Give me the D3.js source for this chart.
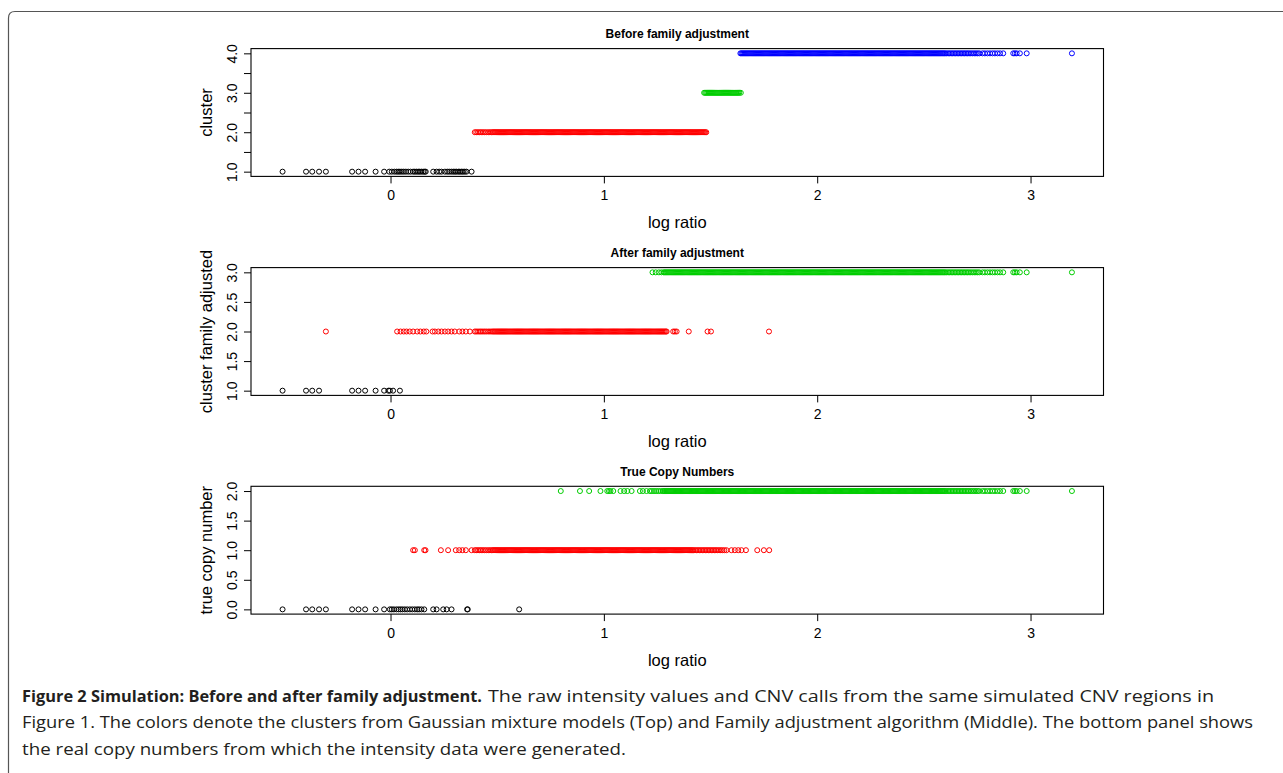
<!DOCTYPE html>
<html><head><meta charset="utf-8">
<script src="https://cdn.jsdelivr.net/npm/d3@7"></script>
<style>body{margin:0;background:#fff}svg{display:block}</style>
</head><body><svg id="c" width="1283" height="773"></svg>
<script>
// ---------- data (log ratio values) ----------
const lowSparse = [-0.506,-0.396,-0.367,-0.335,-0.180,-0.150,-0.119,-0.070,-0.030];
const topBlackExtra = [-0.303,-0.006,0.006,0.018,0.028,0.036,0.044,0.053,0.062,0.072,0.083,0.094,0.106,0.114,0.122,0.130,0.137,0.145,0.153,0.160,0.165,0.200,0.216,0.228,0.239,0.255,0.266,0.275,0.285,0.294,0.302,0.309,0.318,0.325,0.333,0.340,0.348,0.356,0.380];
const midBlackExtra = [-0.010,-0.003,0.012,0.044];
const bottomBlackExtra = [-0.303,-0.003,0.006,0.016,0.028,0.038,0.047,0.056,0.067,0.078,0.091,0.102,0.114,0.125,0.134,0.145,0.158,0.200,0.216,0.247,0.263,0.286,0.359,0.362,0.603];
const redLead = [0.395,0.402,0.410,0.418,0.425,0.433,0.441,0.449,0.458,0.466,0.474];
const midRedLead = [-0.303,0.031,0.047,0.062,0.075,0.090,0.106,0.125,0.140,0.156,0.168,0.197,0.208,0.224,0.239,0.255,0.270,0.286,0.301,0.322,0.337,0.353,0.372];
const bottomRedLead = [0.106,0.114,0.158,0.164,0.236,0.270,0.306,0.322,0.337,0.353,0.380];
const midBand = [0.480,0.485,0.490,0.495,0.500,0.505,0.510,0.515,0.520,0.525,0.530,0.535,0.540,0.545,0.550,0.555,0.560,0.565,0.570,0.575,
0.580,0.585,0.590,0.595,0.600,0.605,0.610,0.615,0.620,0.625,0.630,0.635,0.640,0.645,0.650,0.655,0.660,0.665,0.670,0.675,
0.680,0.685,0.690,0.695,0.700,0.705,0.710,0.715,0.720,0.725,0.730,0.735,0.740,0.745,0.750,0.755,0.760,0.765,0.770,0.775,
0.780,0.785,0.790,0.795,0.800,0.805,0.810,0.815,0.820,0.825,0.830,0.835,0.840,0.845,0.850,0.855,0.860,0.865,0.870,0.875,
0.880,0.885,0.890,0.895,0.900,0.905,0.910,0.915,0.920,0.925,0.930,0.935,0.940,0.945,0.950,0.955,0.960,0.965,0.970,0.975,
0.980,0.985,0.990,0.995,1.000,1.005,1.010,1.015,1.020,1.025,1.030,1.035,1.040,1.045,1.050,1.055,1.060,1.065,1.070,1.075,
1.080,1.085,1.090,1.095,1.100,1.105,1.110,1.115,1.120,1.125,1.130,1.135,1.140,1.145,1.150,1.155,1.160,1.165,1.170,1.175,
1.180,1.185,1.190,1.195,1.200,1.205,1.210,1.215,1.220,1.225,1.230,1.235,1.240,1.245,1.250,1.255,1.260];
const topRedTail = [1.265,1.270,1.275,1.280,1.285,1.290,1.295,1.300,1.305,1.310,1.315,1.320,1.325,1.330,1.335,1.340,1.345,1.350,1.355,1.360,
1.365,1.370,1.375,1.380,1.385,1.390,1.395,1.400,1.405,1.410,1.415,1.420,1.425,1.430,1.435,1.440,1.445,1.450,1.455,1.460,1.465,1.470,1.475,1.480];
const midRedTail = [1.265,1.270,1.275,1.280,1.285,1.290,1.294,1.325,1.333,1.341,1.398,1.486,1.502,1.774];
const bottomRedTail = [1.265,1.270,1.275,1.280,1.285,1.290,1.295,1.300,1.305,1.310,1.315,1.320,1.325,1.330,1.335,1.340,1.345,1.350,1.355,1.360,
1.365,1.370,1.375,1.380,1.385,1.390,1.395,1.400,1.405,1.410,1.415,1.420,1.427,1.434,1.441,1.448,1.455,1.462,1.469,1.476,1.483,1.490,1.497,1.504,1.511,1.518,1.525,1.532,1.540,1.548,1.556,1.565,1.575,
1.598,1.614,1.630,1.645,1.666,1.719,1.750,1.775];
const topGreen = [1.470,1.475,1.480,1.485,1.490,1.495,1.500,1.505,1.510,1.515,1.520,1.525,1.530,1.535,1.540,1.545,1.550,1.555,1.560,1.565,
1.570,1.575,1.580,1.585,1.590,1.595,1.600,1.605,1.610,1.615,1.620,1.625,1.630,1.635,1.642];
const midGreenLead = [1.228,1.243,1.258,1.270];
const bottomGreenLead = [0.798,0.888,0.931,0.984,1.016,1.024,1.031,1.044,1.078,1.095,1.110,1.130,1.169,1.183,1.200,1.216,1.225,1.235,1.245,1.255,1.265,1.275];
const greenMid = [1.280,1.285,1.290,1.295,1.300,1.305,1.310,1.315,1.320,1.325,1.330,1.335,1.340,1.345,1.350,1.355,1.360,1.365,1.370,1.375,
1.380,1.385,1.390,1.395,1.400,1.405,1.410,1.415,1.420,1.425,1.430,1.435,1.440,1.445,1.450,1.455,1.460,1.465,1.470,1.475,
1.480,1.485,1.490,1.495,1.500,1.505,1.510,1.515,1.520,1.525,1.530,1.535,1.540,1.545,1.550,1.555,1.560,1.565,1.570,1.575,
1.580,1.585,1.590,1.595,1.600,1.605,1.610,1.615,1.620,1.625,1.630,1.635];
const highBand = [1.640,1.645,1.650,1.655,1.660,1.665,1.670,1.675,1.680,1.685,1.690,1.695,1.700,1.705,1.710,1.715,1.720,1.725,1.730,1.735,
1.740,1.745,1.750,1.755,1.760,1.765,1.770,1.775,1.780,1.785,1.790,1.795,1.800,1.805,1.810,1.815,1.820,1.825,1.830,1.835,
1.840,1.845,1.850,1.855,1.860,1.865,1.870,1.875,1.880,1.885,1.890,1.895,1.900,1.905,1.910,1.915,1.920,1.925,1.930,1.935,
1.940,1.945,1.950,1.955,1.960,1.965,1.970,1.975,1.980,1.985,1.990,1.995,2.000,2.005,2.010,2.015,2.020,2.025,2.030,2.035,
2.040,2.045,2.050,2.055,2.060,2.065,2.070,2.075,2.080,2.085,2.090,2.095,2.100,2.105,2.110,2.115,2.120,2.125,2.130,2.135,
2.140,2.145,2.150,2.155,2.160,2.165,2.170,2.175,2.180,2.185,2.190,2.195,2.200,2.205,2.210,2.215,2.220,2.225,2.230,2.235,
2.240,2.245,2.250,2.255,2.260,2.265,2.270,2.275,2.280,2.285,2.290,2.295,2.300,2.305,2.310,2.315,2.320,2.325,2.330,2.335,
2.340,2.345,2.350,2.355,2.360,2.365,2.370,2.375,2.380,2.385,2.390,2.395,2.400,2.405,2.410,2.415,2.420,2.425,2.430,2.435,
2.440,2.445,2.450,2.455,2.460,2.465,2.470,2.475,2.480,2.485,2.490,2.495,2.500,2.505,2.510,2.515,2.520,2.525,2.530,2.535,
2.540,2.545,2.550,2.555,2.560,2.565,2.570,2.575,2.580,2.585,2.590,2.595,2.600];
const highFade = [2.607,2.614,2.621,2.628,2.635,2.642,2.649,2.656,2.663,2.670,2.677,2.684,2.691,2.698,2.705,2.712,2.720,2.728,2.736,2.744,2.752,2.760];
const highOutliers = [2.775,2.786,2.798,2.810,2.822,2.833,2.845,2.857,2.872,2.919,2.927,2.935,2.950,2.982,3.194];

const titles = ["Before family adjustment","After family adjustment","True Copy Numbers"];
const yLabels = ["cluster","cluster family adjusted","true copy number"];
const xLabel = "log ratio";
const xTicks = [0,1,2,3];
const yTicksTop = [1.0,1.5,2.0,2.5,3.0,3.5,4.0];
const yTickLabelsTop = [1.0,2.0,3.0,4.0];
const yTicksMid = [1.0,1.5,2.0,2.5,3.0];
const yTicksBottom = [0.0,0.5,1.0,1.5,2.0];
const captionBold = "Figure 2 Simulation: Before and after family adjustment.";
const captionLines = ["The raw intensity values and CNV calls from the same simulated CNV regions in",
 "Figure 1. The colors denote the clusters from Gaussian mixture models (Top) and Family adjustment algorithm (Middle). The bottom panel shows",
 "the real copy numbers from which the intensity data were generated."];

// ---------- chart ----------
const svg = d3.select("#c");
const cBlack="#000000", cRed="#ff0000", cGreen="#00cd00", cBlue="#0000ff";
const panels = [
 {top:48.6, yDom:[0.88,4.12], ticks:yTicksTop, labels:yTickLabelsTop,
  series:[
   {y:1,c:cBlack,v:lowSparse.concat(topBlackExtra)},
   {y:2,c:cRed,v:redLead.concat(midBand,topRedTail)},
   {y:3,c:cGreen,v:topGreen},
   {y:4,c:cBlue,v:highBand.concat(highFade,highOutliers)}]},
 {top:267.6, yDom:[0.92,3.08], ticks:yTicksMid, labels:yTicksMid,
  series:[
   {y:1,c:cBlack,v:lowSparse.concat(midBlackExtra)},
   {y:2,c:cRed,v:midRedLead.concat(redLead,midBand,midRedTail)},
   {y:3,c:cGreen,v:midGreenLead.concat(greenMid,highBand,highFade,highOutliers)}]},
 {top:486.3, yDom:[-0.08,2.08], ticks:yTicksBottom, labels:yTicksBottom,
  series:[
   {y:0,c:cBlack,v:lowSparse.concat(bottomBlackExtra)},
   {y:1,c:cRed,v:bottomRedLead.concat(redLead,midBand,bottomRedTail)},
   {y:2,c:cGreen,v:bottomGreenLead.concat(greenMid,highBand,highFade,highOutliers)}]}
];
const L=251, R=1103.5, PH=127.8;
const x = d3.scaleLinear().domain([-0.654,3.342]).range([L,R]);
const fmt = d3.format(".1f");
const sans = "'Liberation Sans', Arial, Helvetica, sans-serif";

panels.forEach((p,i)=>{
  const y = d3.scaleLinear().domain(p.yDom).range([p.top+PH,p.top]);
  const g = svg.append("g");
  // points
  p.series.forEach(s=>{
    g.append("g").selectAll("circle").data(s.v).join("circle")
      .attr("cx",d=>x(d)).attr("cy",y(s.y)).attr("r",2.5)
      .attr("fill","none").attr("stroke",s.c).attr("stroke-width",1.0);
  });
  // box
  g.append("rect").attr("x",L).attr("y",p.top).attr("width",R-L).attr("height",PH)
    .attr("fill","none").attr("stroke","#000").attr("stroke-width",1.1);
  // x axis
  const xa = g.append("g").attr("transform",`translate(0,${p.top+PH})`)
    .call(d3.axisBottom(x).tickValues(xTicks).tickSize(7).tickFormat(d3.format("d")));
  xa.select(".domain").remove();
  xa.selectAll("text").attr("y",23.5).attr("dy",0).style("font-family",sans).style("font-size","14px").attr("fill","#000");
  // y axis
  const ya = g.append("g").attr("transform",`translate(${L},0)`)
    .call(d3.axisLeft(y).tickValues(p.ticks).tickSize(7).tickFormat(d=>p.labels.includes(d)?fmt(d):""));
  ya.select(".domain").remove();
  ya.selectAll("text").attr("x",null).attr("dy",0).attr("text-anchor","middle")
    .attr("transform","translate(-14.5,0) rotate(-90)")
    .style("font-family",sans).style("font-size","14px").attr("fill","#000");
  // title
  g.append("text").attr("x",(L+R)/2).attr("y",p.top-10.5).attr("text-anchor","middle")
    .style("font-family",sans).style("font-size","12px").style("font-weight","bold").text(titles[i]);
  // x label
  g.append("text").attr("x",(L+R)/2).attr("y",p.top+PH+52).attr("text-anchor","middle")
    .style("font-family",sans).style("font-size","16.5px").text(xLabel);
  // y label
  g.append("text").attr("transform",`translate(${212},${p.top+PH/2}) rotate(-90)`).attr("text-anchor","middle")
    .style("font-family",sans).style("font-size","16.5px").text(yLabels[i]);
});

// frame
svg.append("path").attr("d","M8.5,780 L8.5,18 Q8.5,11.5 15,11.5 L1290,11.5")
  .attr("fill","none").attr("stroke","#555").attr("stroke-width",1.2);

// caption
const capFont = "'Open Sans', 'Noto Sans', sans-serif";
const baseY = [701.5, 728, 754.5];
svg.append("text").attr("x",22).attr("y",baseY[0])
  .attr("textLength",460).attr("lengthAdjust","spacingAndGlyphs")
  .style("font-family",capFont).style("font-size","16.5px").style("font-weight","bold").attr("fill","#231f20")
  .text(captionBold);
const lineX = [488, 22, 22];
const widths = [726, 1231, 604];
captionLines.forEach((line,i)=>{
  svg.append("text").attr("x",lineX[i]).attr("y",baseY[i])
    .attr("textLength",widths[i]).attr("lengthAdjust","spacingAndGlyphs")
    .style("font-family",capFont).style("font-size","16.5px").attr("fill","#231f20")
    .text(line);
});
</script></body></html>
